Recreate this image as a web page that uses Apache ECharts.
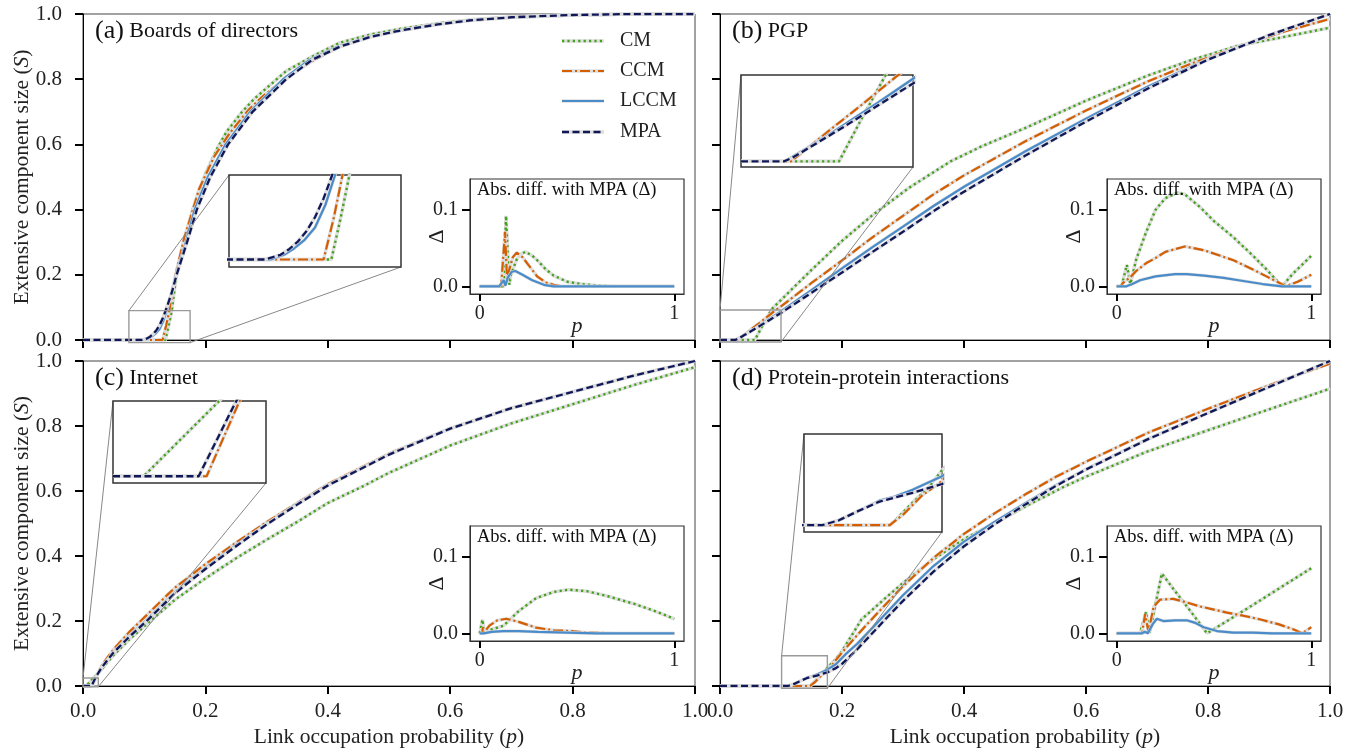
<!DOCTYPE html>
<html><head><meta charset="utf-8">
<script src="https://cdn.jsdelivr.net/npm/echarts@6/dist/echarts.min.js"></script>
<style>html,body{margin:0;padding:0;background:#fff}#c{width:1354px;height:749px}</style>
</head><body><div id="c"></div>
<script>
// ---------------- DATA ----------------
const seriesNames = ['CM', 'CCM', 'LCCM', 'MPA'];
const diffNames = ['CM', 'CCM', 'LCCM'];
const panelLetters = ['(a)', '(b)', '(c)', '(d)'];
const panelTitles = ['Boards of directors', 'PGP', 'Internet', 'Protein-protein interactions'];
const mainTicks = [0, 0.2, 0.4, 0.6, 0.8, 1.0];
const diffXTicks = [0, 1];
const diffYTicks = [0, 0.1];
const diffTitle = 'Abs. diff. with MPA (\u0394)';
const xAxisTitle = 'Link occupation probability ({i|p})';
const yAxisTitle = 'Extensive component size ({i|S})';

// zoom-inset ranges [p range, S range]
const zoomA = [[0.075, 0.175], [-0.008, 0.09]];
const zoomB = [[0, 0.1], [-0.006, 0.092]];
const zoomC = [[0, 0.025], [-0.0022, 0.0245]];
const zoomD = [[0.101, 0.176], [-0.007, 0.093]];

// (a) Boards of directors
const aCM = [[0,0],[0.1345,0],[0.14,0.045],[0.145,0.09],[0.152,0.19],[0.165,0.3],[0.18,0.405],[0.2,0.51],[0.22,0.59],[0.235,0.64],[0.26,0.7],[0.28,0.74],[0.3,0.773],[0.332,0.825],[0.38,0.875],[0.42,0.912],[0.47,0.937],[0.52,0.955],[0.58,0.971],[0.63,0.982],[0.7,0.991],[0.8,0.997],[0.9,1],[1,1]];
const aCCM = [[0,0],[0.13,0],[0.136,0.045],[0.141,0.09],[0.15,0.19],[0.165,0.31],[0.19,0.465],[0.215,0.565],[0.24,0.635],[0.27,0.705],[0.295,0.75],[0.34,0.815],[0.38,0.862],[0.42,0.9],[0.47,0.93],[0.52,0.95],[0.58,0.968],[0.63,0.98],[0.7,0.99],[0.8,0.997],[0.9,1],[1,1]];
const aLCCM = [[0,0],[0.099,0],[0.107,0.005],[0.113,0.012],[0.119,0.021],[0.125,0.034],[0.131,0.058],[0.137,0.092],[0.145,0.148],[0.152,0.2],[0.168,0.3],[0.1825,0.4],[0.204,0.5],[0.233,0.6],[0.273,0.7],[0.327,0.8],[0.371,0.86],[0.417,0.9],[0.47,0.931],[0.52,0.95],[0.58,0.968],[0.63,0.98],[0.7,0.99],[0.8,0.997],[0.9,1],[1,1]];
const aMPA = [[0,0],[0.096,0],[0.105,0.005],[0.11,0.011],[0.115,0.019],[0.12,0.03],[0.125,0.045],[0.13,0.065],[0.135,0.09],[0.145,0.145],[0.153,0.2],[0.17,0.3],[0.186,0.4],[0.208,0.5],[0.237,0.6],[0.277,0.7],[0.332,0.8],[0.375,0.86],[0.42,0.9],[0.47,0.93],[0.52,0.95],[0.58,0.968],[0.63,0.98],[0.7,0.99],[0.8,0.997],[0.9,1],[1,1]];
const aDiffCM = [[0,0],[0.125,0],[0.135,0.092],[0.152,0.002],[0.16,0.015],[0.19,0.035],[0.21,0.042],[0.235,0.045],[0.27,0.04],[0.3,0.033],[0.34,0.022],[0.38,0.014],[0.45,0.006],[0.52,0.003],[0.6,0.001],[0.7,0],[1,0]];
const aDiffCCM = [[0,0],[0.11,0],[0.13,0.071],[0.14,0.01],[0.15,0.02],[0.17,0.038],[0.19,0.044],[0.22,0.038],[0.25,0.028],[0.295,0.013],[0.34,0.005],[0.38,0.002],[0.42,0],[1,0]];
const aDiffLCCM = [[0,0],[0.1,0],[0.123,0.008],[0.132,0.001],[0.145,0.012],[0.165,0.019],[0.183,0.02],[0.22,0.015],[0.27,0.008],[0.33,0.002],[0.38,0],[1,0]];

// (b) PGP
const bCM = [[0,0],[0.057,0],[0.07,0.045],[0.085,0.095],[0.1,0.123],[0.15,0.215],[0.2,0.304],[0.25,0.383],[0.31,0.467],[0.378,0.548],[0.43,0.595],[0.5,0.65],[0.6,0.734],[0.7,0.81],[0.77,0.857],[0.85,0.903],[0.92,0.928],[1,0.958]];
const bCCM = [[0,0],[0.029,0],[0.04,0.016],[0.05,0.031],[0.07,0.06],[0.09,0.09],[0.1,0.103],[0.15,0.175],[0.2,0.244],[0.25,0.315],[0.3,0.381],[0.35,0.447],[0.4,0.505],[0.45,0.557],[0.5,0.609],[0.6,0.704],[0.7,0.792],[0.77,0.846],[0.87,0.913],[0.93,0.949],[1,0.985]];
const bLCCM = [[0,0],[0.025,0],[0.03,0.005],[0.04,0.016],[0.05,0.027],[0.06,0.039],[0.08,0.063],[0.1,0.088],[0.15,0.153],[0.2,0.22],[0.25,0.285],[0.3,0.348],[0.35,0.411],[0.4,0.47],[0.45,0.524],[0.5,0.578],[0.6,0.679],[0.7,0.776],[0.8,0.862],[0.9,0.935],[1,1]];
const bMPA = [[0,0],[0.025,0],[0.03,0.004],[0.04,0.015],[0.05,0.026],[0.06,0.037],[0.08,0.06],[0.1,0.083],[0.15,0.145],[0.2,0.207],[0.25,0.27],[0.3,0.332],[0.35,0.395],[0.4,0.455],[0.45,0.51],[0.5,0.565],[0.6,0.67],[0.7,0.77],[0.8,0.86],[0.9,0.935],[1,1]];
const bDiffCM = [[0,0],[0.025,0],[0.052,0.028],[0.07,0.003],[0.1,0.035],[0.15,0.07],[0.2,0.1],[0.25,0.115],[0.31,0.122],[0.35,0.12],[0.43,0.103],[0.5,0.085],[0.6,0.064],[0.7,0.04],[0.77,0.022],[0.85,0],[0.9,0.015],[1,0.04]];
const bDiffCCM = [[0,0],[0.02,0],[0.03,0.004],[0.07,0.012],[0.1,0.02],[0.15,0.03],[0.2,0.037],[0.25,0.045],[0.35,0.052],[0.45,0.047],[0.6,0.034],[0.7,0.022],[0.77,0.013],[0.87,0],[0.93,0.006],[1,0.015]];
const bDiffLCCM = [[0,0],[0.05,0],[0.08,0.003],[0.12,0.008],[0.2,0.013],[0.3,0.016],[0.36,0.016],[0.45,0.014],[0.55,0.011],[0.65,0.007],[0.75,0.003],[0.85,0],[1,0]];

// (c) Internet
const cCM = [[0,0],[0.005,0],[0.0174,0.0246],[0.025,0.04],[0.03,0.05],[0.04,0.074],[0.05,0.095],[0.075,0.142],[0.104,0.19],[0.15,0.265],[0.2,0.331],[0.25,0.393],[0.3,0.45],[0.35,0.505],[0.4,0.563],[0.457,0.614],[0.5,0.656],[0.6,0.74],[0.7,0.808],[0.8,0.867],[0.9,0.926],[1,0.981]];
const cCCM = [[0,0],[0.0153,0],[0.0207,0.0246],[0.025,0.042],[0.03,0.06],[0.04,0.088],[0.05,0.113],[0.075,0.165],[0.104,0.218],[0.137,0.279],[0.15,0.302],[0.2,0.375],[0.25,0.441],[0.3,0.504],[0.35,0.563],[0.4,0.621],[0.5,0.715],[0.6,0.793],[0.7,0.855],[0.8,0.905],[0.9,0.955],[1,1]];
const cLCCM = [[0,0],[0.014,0],[0.017,0.012],[0.02,0.024],[0.025,0.04],[0.03,0.056],[0.04,0.081],[0.05,0.105],[0.075,0.153],[0.104,0.203],[0.15,0.288],[0.2,0.363],[0.25,0.433],[0.3,0.499],[0.35,0.56],[0.4,0.618],[0.5,0.713],[0.6,0.792],[0.7,0.855],[0.8,0.905],[0.9,0.955],[1,1]];
const cMPA = [[0,0],[0.014,0],[0.017,0.012],[0.02,0.024],[0.025,0.04],[0.03,0.055],[0.04,0.08],[0.05,0.103],[0.075,0.15],[0.104,0.2],[0.15,0.285],[0.2,0.36],[0.25,0.43],[0.3,0.497],[0.35,0.558],[0.4,0.617],[0.5,0.712],[0.6,0.792],[0.7,0.855],[0.8,0.905],[0.9,0.955],[1,1]];
const cDiffCM = [[0,0],[0.005,0],[0.014,0.018],[0.022,0.004],[0.035,0.002],[0.06,0.005],[0.123,0.01],[0.2,0.029],[0.29,0.046],[0.38,0.054],[0.457,0.057],[0.55,0.055],[0.65,0.049],[0.8,0.038],[0.9,0.029],[1,0.019]];
const cDiffCCM = [[0,0],[0.013,0],[0.016,0.008],[0.021,0.001],[0.05,0.01],[0.09,0.017],[0.137,0.019],[0.2,0.015],[0.29,0.0074],[0.38,0.004],[0.47,0.003],[0.55,0.001],[0.7,0],[1,0]];
const cDiffLCCM = [[0,0],[0.02,0],[0.06,0.002],[0.12,0.003],[0.2,0.003],[0.3,0.002],[0.45,0.001],[0.6,0],[1,0]];

// (d) Protein-protein interactions
const dCM = [[0,0],[0.148,0],[0.16,0.023],[0.168,0.037],[0.176,0.056],[0.19,0.083],[0.2,0.107],[0.232,0.205],[0.25,0.235],[0.275,0.277],[0.3,0.317],[0.35,0.39],[0.4,0.452],[0.464,0.515],[0.5,0.552],[0.567,0.616],[0.6,0.644],[0.7,0.721],[0.8,0.787],[0.9,0.851],[1,0.915]];
const dCCM = [[0,0],[0.1476,0],[0.155,0.011],[0.165,0.03],[0.176,0.045],[0.19,0.08],[0.2,0.103],[0.225,0.157],[0.25,0.208],[0.275,0.258],[0.3,0.307],[0.35,0.394],[0.4,0.468],[0.45,0.531],[0.5,0.589],[0.55,0.643],[0.6,0.69],[0.7,0.778],[0.8,0.853],[0.9,0.925],[0.954,0.962],[1,0.992]];
const dLCCM = [[0,0],[0.111,0],[0.12,0.005],[0.13,0.014],[0.142,0.025],[0.15,0.029],[0.16,0.036],[0.176,0.05],[0.19,0.067],[0.206,0.098],[0.225,0.13],[0.25,0.179],[0.275,0.229],[0.3,0.279],[0.35,0.369],[0.4,0.444],[0.45,0.505],[0.5,0.562],[0.55,0.617],[0.6,0.667],[0.7,0.759],[0.8,0.84],[0.9,0.92],[1,1]];
const dMPA = [[0,0],[0.111,0],[0.12,0.005],[0.13,0.014],[0.142,0.024],[0.15,0.028],[0.16,0.033],[0.176,0.042],[0.19,0.055],[0.2,0.068],[0.225,0.113],[0.25,0.163],[0.275,0.213],[0.3,0.262],[0.35,0.352],[0.4,0.43],[0.45,0.497],[0.5,0.558],[0.55,0.615],[0.6,0.666],[0.7,0.758],[0.8,0.84],[0.9,0.92],[1,1]];
const dDiffCM = [[0,0],[0.12,0],[0.151,0.028],[0.168,0],[0.232,0.078],[0.3,0.055],[0.4,0.022],[0.464,0],[0.567,0.016],[0.7,0.037],[0.85,0.061],[1,0.085]];
const dDiffCCM = [[0,0],[0.13,0],[0.146,0.025],[0.163,0.002],[0.19,0.035],[0.223,0.044],[0.29,0.045],[0.35,0.041],[0.43,0.035],[0.5,0.031],[0.567,0.027],[0.65,0.023],[0.74,0.018],[0.83,0.012],[0.91,0.005],[0.954,0],[1,0.008]];
const dDiffLCCM = [[0,0],[0.13,0],[0.145,0.002],[0.16,0],[0.185,0.012],[0.206,0.019],[0.24,0.016],[0.3,0.017],[0.36,0.017],[0.4,0.014],[0.447,0.008],[0.515,0.003],[0.6,0.001],[0.7,0.001],[0.8,0],[1,0]];

// ---------------- STYLE / LAYOUT ----------------
const FONT = '"Liberation Serif", "DejaVu Serif", serif';
const HALO = '#dedede';
const STY = {
  CM:   {color: '#44a11c', width: 2.4, dash: [2.2, 3.2]},
  CCM:  {color: '#d55e00', width: 2.2, dash: [10, 3, 2, 3]},
  LCCM: {color: '#4a8bc9', width: 2.2, dash: 'solid'},
  MPA:  {color: '#101858', width: 2.3, dash: [7, 3.5]}
};
const mainRects = [
  {left: 83, top: 14, width: 612, height: 326},
  {left: 720, top: 14, width: 610, height: 326},
  {left: 83, top: 361, width: 612, height: 326},
  {left: 720, top: 361, width: 610, height: 326}
];
const zoomRects = [
  {left: 229, top: 175, width: 172, height: 92},
  {left: 741, top: 75, width: 172, height: 92},
  {left: 113, top: 401, width: 153, height: 82},
  {left: 804, top: 434, width: 138, height: 98}
];
const diffRects = [
  {left: 470, top: 179, width: 214, height: 115},
  {left: 1107, top: 179, width: 214, height: 115},
  {left: 470, top: 526, width: 214, height: 115},
  {left: 1107, top: 526, width: 214, height: 115}
];

const panels = [
  {main: {CM: aCM, CCM: aCCM, LCCM: aLCCM, MPA: aMPA}, diff: {CM: aDiffCM, CCM: aDiffCCM, LCCM: aDiffLCCM}, zoom: zoomA},
  {main: {CM: bCM, CCM: bCCM, LCCM: bLCCM, MPA: bMPA}, diff: {CM: bDiffCM, CCM: bDiffCCM, LCCM: bDiffLCCM}, zoom: zoomB},
  {main: {CM: cCM, CCM: cCCM, LCCM: cLCCM, MPA: cMPA}, diff: {CM: cDiffCM, CCM: cDiffCCM, LCCM: cDiffLCCM}, zoom: zoomC},
  {main: {CM: dCM, CCM: dCCM, LCCM: dLCCM, MPA: dMPA}, diff: {CM: dDiffCM, CCM: dDiffCCM, LCCM: dDiffLCCM}, zoom: zoomD}
];

const grids = [], xAxes = [], yAxes = [], series = [], titles = [];

function addLines(idx, dataMap, keys, z) {
  keys.forEach(k => {
    const base = {type: 'line', xAxisIndex: idx, yAxisIndex: idx, data: dataMap[k], symbol: 'none',
      showSymbol: false, silent: true, animation: false, clip: true, z: z};
    series.push(Object.assign({}, base, {lineStyle: {color: HALO, width: STY[k].width + 1.1, type: 'solid'}}));
    series.push(Object.assign({}, base, {name: k, lineStyle: {color: STY[k].color, width: STY[k].width, type: STY[k].dash}}));
  });
}

const tickStyle = {color: '#000', width: 2};
const labelStyle = {color: '#222', fontFamily: FONT, fontSize: 21};
const nameStyle = {fontFamily: FONT, fontSize: 21.5, color: '#222', rich: {i: {fontStyle: 'italic', fontFamily: FONT, fontSize: 21.5, color: '#222'}}};

// main panels (grid 0-3)
panels.forEach((p, i) => {
  grids.push(Object.assign({show: true, borderColor: '#444', borderWidth: 1, z: 0}, mainRects[i]));
  const bottomRow = i >= 2, leftCol = i % 2 === 0;
  xAxes.push({type: 'value', gridIndex: i, min: mainTicks[0], max: mainTicks[mainTicks.length - 1], interval: 0.2,
    axisLine: {show: true, onZero: false, lineStyle: {color: '#000', width: 1}},
    axisTick: {show: true, inside: false, length: 8, lineStyle: tickStyle},
    axisLabel: Object.assign({show: bottomRow, margin: 15, formatter: v => v.toFixed(1)}, labelStyle),
    splitLine: {show: false},
    name: bottomRow ? xAxisTitle : '', nameLocation: 'middle', nameGap: 40, nameMoveOverlap: false,
    nameTextStyle: nameStyle
  });
  yAxes.push({type: 'value', gridIndex: i, min: 0, max: 1, interval: 0.2,
    axisLine: {show: true, onZero: false, lineStyle: {color: '#000', width: 1}},
    axisTick: {show: true, inside: false, length: 8, lineStyle: tickStyle},
    axisLabel: Object.assign({show: leftCol, margin: 21, formatter: v => v.toFixed(1)}, labelStyle),
    splitLine: {show: false},
    name: leftCol ? yAxisTitle : '', nameLocation: 'middle', nameGap: 50, nameRotate: 90, nameMoveOverlap: false,
    nameTextStyle: nameStyle
  });
  addLines(i, p.main, seriesNames, 2);
  titles.push({text: '{b|' + panelLetters[i] + '} ' + panelTitles[i], left: mainRects[i].left + 12, top: mainRects[i].top + 4, z: 30, padding: 0,
    textStyle: {fontFamily: FONT, fontSize: 22, fontWeight: 'normal', color: '#111', rich: {b: {fontFamily: FONT, fontSize: 26, color: '#111'}}}});
});

// zoom insets (grid 4-7)
panels.forEach((p, i) => {
  const gi = 4 + i;
  grids.push(Object.assign({show: true, borderColor: '#333', borderWidth: 1.5, backgroundColor: '#fff', z: 10}, zoomRects[i]));
  xAxes.push({type: 'value', gridIndex: gi, min: p.zoom[0][0], max: p.zoom[0][1], show: false, z: 11});
  yAxes.push({type: 'value', gridIndex: gi, min: p.zoom[1][0], max: p.zoom[1][1], show: false, z: 11});
  addLines(gi, p.main, seriesNames, 12);
});

// difference insets (grid 8-11)
panels.forEach((p, i) => {
  const gi = 8 + i;
  grids.push(Object.assign({show: true, borderColor: '#333', borderWidth: 1.2, backgroundColor: '#fff', z: 10}, diffRects[i]));
  xAxes.push({type: 'value', gridIndex: gi, min: -0.05, max: 1.05, z: 11,
    axisLine: {show: true, onZero: false, lineStyle: {color: '#333', width: 1}},
    axisTick: {show: true, inside: false, length: 7, customValues: diffXTicks, lineStyle: tickStyle},
    axisLabel: Object.assign({show: true, margin: 10, customValues: diffXTicks, formatter: v => String(Math.round(v))}, labelStyle, {fontSize: 20}),
    splitLine: {show: false},
    name: 'p', nameLocation: 'middle', nameGap: 21, nameMoveOverlap: false,
    nameTextStyle: {fontFamily: FONT, fontSize: 22, fontStyle: 'italic', color: '#222'}
  });
  yAxes.push({type: 'value', gridIndex: gi, min: -0.01, max: 0.14, z: 11,
    axisLine: {show: true, onZero: false, lineStyle: {color: '#333', width: 1}},
    axisTick: {show: true, inside: false, length: 8, customValues: diffYTicks, lineStyle: tickStyle},
    axisLabel: Object.assign({show: true, margin: 12, customValues: diffYTicks, formatter: v => v.toFixed(1)}, labelStyle, {fontSize: 20}),
    splitLine: {show: false},
    name: '\u0394', nameLocation: 'middle', nameGap: 22, nameRotate: 90, nameMoveOverlap: false,
    nameTextStyle: {fontFamily: FONT, fontSize: 22, color: '#222'}
  });
  addLines(gi, p.diff, diffNames, 12);
  titles.push({text: diffTitle, left: diffRects[i].left + 7, top: diffRects[i].top + 2, z: 30, padding: 0,
    textStyle: {fontFamily: FONT, fontSize: 18.5, fontWeight: 'normal', color: '#111'}});
});

const chart = echarts.init(document.getElementById('c'), null, {renderer: 'canvas'});
chart.setOption({
  animation: false,
  backgroundColor: '#fff',
  title: titles,
  grid: grids,
  xAxis: xAxes,
  yAxis: yAxes,
  series: series
});

// connector lines + source rectangles + legend
const graphics = [];
panels.forEach((p, i) => {
  const z = p.zoom;
  const tl = chart.convertToPixel({gridIndex: i}, [z[0][0], z[1][1]]);
  const br = chart.convertToPixel({gridIndex: i}, [z[0][1], z[1][0]]);
  const itl = chart.convertToPixel({gridIndex: 4 + i}, [z[0][0], z[1][1]]);
  const ibr = chart.convertToPixel({gridIndex: 4 + i}, [z[0][1], z[1][0]]);
  graphics.push({type: 'rect', z: 5, silent: true, shape: {x: tl[0], y: tl[1], width: br[0] - tl[0], height: br[1] - tl[1]},
    style: {fill: null, stroke: '#9a9a9a', lineWidth: 1.4}});
  graphics.push({type: 'line', z: 5, silent: true, shape: {x1: tl[0], y1: tl[1], x2: itl[0], y2: itl[1]}, style: {stroke: '#888', lineWidth: 1}});
  graphics.push({type: 'line', z: 5, silent: true, shape: {x1: br[0], y1: br[1], x2: ibr[0], y2: ibr[1]}, style: {stroke: '#888', lineWidth: 1}});
});
const legendRowsY = [41, 71, 101, 132];
seriesNames.forEach((k, j) => {
  const y = legendRowsY[j];
  graphics.push({type: 'line', z: 40, silent: true, shape: {x1: 562, y1: y, x2: 604, y2: y}, style: {stroke: HALO, lineWidth: STY[k].width + 1.1}});
  graphics.push({type: 'line', z: 41, silent: true, shape: {x1: 562, y1: y, x2: 604, y2: y},
    style: {stroke: STY[k].color, lineWidth: STY[k].width, lineDash: STY[k].dash === 'solid' ? null : STY[k].dash}});
  graphics.push({type: 'text', z: 41, silent: true, style: {x: 620, y: y, text: k, font: '20px ' + FONT, fill: '#222', verticalAlign: 'middle', textVerticalAlign: 'middle'}});
});
chart.setOption({graphic: graphics});
</script></body></html>
